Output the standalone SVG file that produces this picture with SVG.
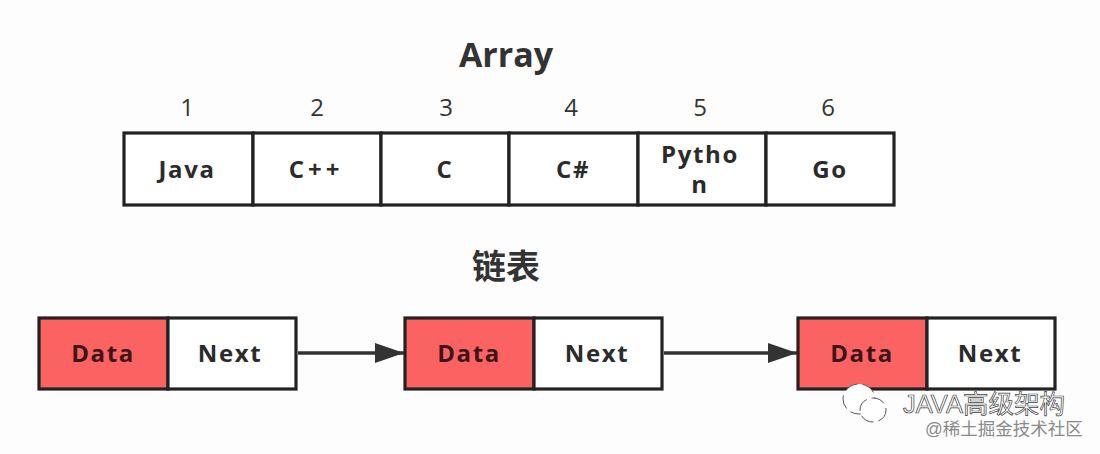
<svg xmlns="http://www.w3.org/2000/svg" width="1100" height="454" viewBox="0 0 1100 454">
<style>
text{font-family:"Open Sans","Noto Sans CJK SC",sans-serif;text-anchor:middle;fill:#2b2b2b}
.cell{fill:#fff;stroke:#222;stroke-width:3.2}
.red{fill:#fb6262}
.lab{font-size:24px;font-weight:700;letter-spacing:1.6px}
.dl{fill:#3d1518}
.num{font-size:24px;font-weight:400;fill:#333}
.title{font-size:34px;font-weight:700;fill:#333}
.conn{stroke:#333;stroke-width:3.5;fill:none;marker-end:url(#a)}
.wm{font-family:"Liberation Sans","Noto Sans CJK SC",sans-serif;text-anchor:start;fill:#fff;stroke:#444;stroke-width:.7}
.wm2{font-family:"Liberation Sans","Noto Sans CJK SC",sans-serif;text-anchor:start;fill:#8a8a8a}
.ic{fill:#fff;stroke:#555;stroke-width:1;stroke-dasharray:14 5}
</style>
<defs><marker id="a" markerUnits="userSpaceOnUse" markerWidth="30" markerHeight="20" refX="29" refY="10" orient="auto"><path d="M0 0L29 10L0 20Z" fill="#333"/></marker></defs>
<rect width="1100" height="454" fill="#fdfdfd"/>
<text class="title" x="506" y="67">Array</text>
<g id="array">
<g id="a1"><text class="num" x="187" y="116">1</text><rect class="cell" x="124" y="133" width="129" height="72"/><text class="lab" x="187" y="178">Java</text></g>
<g id="a2"><text class="num" x="317" y="116">2</text><rect class="cell" x="253" y="133" width="128" height="72"/><text class="lab" x="316" y="178" style="letter-spacing:4px">C++</text></g>
<g id="a3"><text class="num" x="446" y="116">3</text><rect class="cell" x="381" y="133" width="128" height="72"/><text class="lab" x="445" y="178">C</text></g>
<g id="a4"><text class="num" x="571" y="116">4</text><rect class="cell" x="509" y="133" width="129" height="72"/><text class="lab" x="573" y="178">C#</text></g>
<g id="a5"><text class="num" x="700" y="116">5</text><rect class="cell" x="638" y="133" width="128" height="72"/><text class="lab" x="700" y="163">Pytho</text><text class="lab" x="700" y="193">n</text></g>
<g id="a6"><text class="num" x="828" y="116">6</text><rect class="cell" x="766" y="133" width="128" height="72"/><text class="lab" x="830" y="178">Go</text></g>
</g>
<text class="title" x="506" y="279">链表</text>
<g id="n1"><rect class="cell red" x="39" y="318" width="129" height="71"/><rect class="cell" x="168" y="318" width="128" height="71"/><text class="lab dl" x="103" y="362">Data</text><text class="lab" x="230" y="362">Next</text></g>
<g id="n2"><rect class="cell red" x="405" y="318" width="129" height="71"/><rect class="cell" x="534" y="318" width="128" height="71"/><text class="lab dl" x="469" y="362">Data</text><text class="lab" x="597" y="362">Next</text></g>
<g id="n3"><rect class="cell red" x="798" y="318" width="129" height="71"/><rect class="cell" x="927" y="318" width="128" height="71"/><text class="lab dl" x="862" y="362">Data</text><text class="lab" x="990" y="362">Next</text></g>
<g id="connectors">
<path class="conn" d="M298 353H404"/>
<path class="conn" d="M664 353H797"/>
</g>
<g id="watermark-icon"><ellipse class="ic" cx="859" cy="399" rx="16" ry="15"/><ellipse class="ic" cx="873" cy="410" rx="13" ry="12"/></g>
<text class="wm" x="903" y="413" font-size="25.5">JAVA高级架构</text>
<text class="wm2" x="925" y="435" font-size="17.5">@稀土掘金技术社区</text>
</svg>
